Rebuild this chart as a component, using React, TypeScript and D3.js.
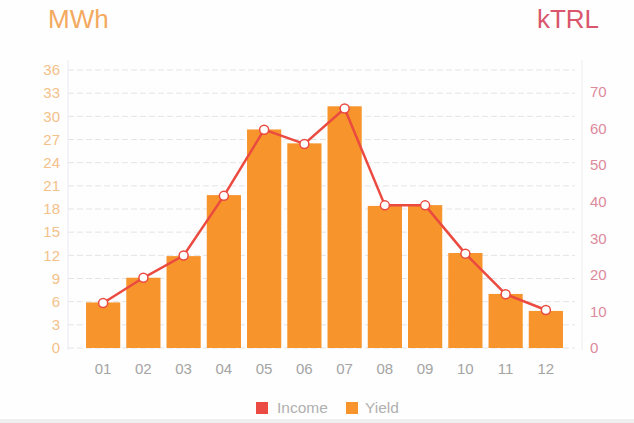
import * as d3 from 'd3';

const months = ['01', '02', '03', '04', '05', '06', '07', '08', '09', '10', '11', '12'];
const yieldMWh = [5.9, 9.1, 11.9, 19.8, 28.3, 26.5, 31.3, 18.4, 18.5, 12.3, 7.0, 4.8];
const incomeKTRL = [12.3, 19.2, 25.3, 41.6, 59.7, 55.8, 65.5, 39.0, 39.0, 25.8, 14.7, 10.4];
const leftTicks = [0, 3, 6, 9, 12, 15, 18, 21, 24, 27, 30, 33, 36];
const rightTicks = [0, 10, 20, 30, 40, 50, 60, 70];
const legendItems = [
  { label: 'Income', color: '#ec4b43' },
  { label: 'Yield', color: '#f7952c' },
];

const W = 634;
const H = 423;
const FONT = '"Liberation Sans", Arial, sans-serif';
const BAR = '#f7952c';
const LINE = '#ea4a3f';

export default function App() {
  const plot = { left: 68, right: 582, top: 60, bottom: 348 };

  const x = d3.scaleBand<string>()
    .domain(months)
    .range([83, 566])
    .paddingInner(0.15)
    .paddingOuter(0.075);

  const yLeft = d3.scaleLinear().domain([0, 36]).range([plot.bottom, 70]);
  const yRight = d3.scaleLinear().domain([0, 70]).range([plot.bottom, 92]);

  const pts = months.map((m, i) => ({ m, v: incomeKTRL[i] }));
  const line = d3.line<{ m: string; v: number }>()
    .x(d => (x(d.m) ?? 0) + x.bandwidth() / 2)
    .y(d => yRight(d.v));

  return (
    <svg width={W} height={H} style={{ position: 'absolute', left: 0, top: 0, background: '#fefefe' }}>
      <rect x={0} y={419} width={W} height={4} fill="#efefef" />

      <text x={48} y={28} fontFamily={FONT} fontSize={26} fill="#f4aa5e">MWh</text>
      <text x={599} y={28} fontFamily={FONT} fontSize={26} fill="#d9566c" textAnchor="end">kTRL</text>

      {/* grid */}
      {leftTicks.map(t => (
        <line
          key={t}
          x1={plot.left}
          x2={575}
          y1={yLeft(t)}
          y2={yLeft(t)}
          stroke="#e4e4e4"
          strokeDasharray="6 3"
        />
      ))}
      <line x1={plot.left} x2={plot.left} y1={plot.top} y2={plot.bottom + 2} stroke="#e8eaf0" />
      <line x1={plot.right} x2={plot.right} y1={plot.top} y2={plot.bottom + 2} stroke="#ececec" />

      {/* left ticks */}
      {leftTicks.map(t => (
        <text
          key={t}
          x={60}
          y={yLeft(t)}
          dy="0.35em"
          textAnchor="end"
          fontFamily={FONT}
          fontSize={15}
          fill="#f3c189"
        >
          {t}
        </text>
      ))}

      {/* right ticks */}
      {rightTicks.map(t => (
        <text
          key={t}
          x={590}
          y={yRight(t)}
          dy="0.35em"
          fontFamily={FONT}
          fontSize={15}
          fill="#dd8a9c"
        >
          {t}
        </text>
      ))}

      {/* bars */}
      {months.map((m, i) => (
        <rect
          key={m}
          x={x(m)}
          y={yLeft(yieldMWh[i])}
          width={x.bandwidth()}
          height={plot.bottom - yLeft(yieldMWh[i])}
          fill={BAR}
        />
      ))}

      {/* x labels */}
      {months.map(m => (
        <text
          key={m}
          x={(x(m) ?? 0) + x.bandwidth() / 2}
          y={369}
          dy="0.35em"
          textAnchor="middle"
          fontFamily={FONT}
          fontSize={15}
          fill="#a4a4a4"
        >
          {m}
        </text>
      ))}

      {/* income line */}
      <path d={line(pts) ?? ''} fill="none" stroke={LINE} strokeWidth={2.5} strokeLinejoin="round" />
      {pts.map(p => (
        <circle
          key={p.m}
          cx={(x(p.m) ?? 0) + x.bandwidth() / 2}
          cy={yRight(p.v)}
          r={4.5}
          fill="#fff"
          stroke={LINE}
          strokeWidth={1.5}
        />
      ))}

      {/* legend */}
      <g transform="translate(256,408)">
        <rect x={0} y={-6} width={12} height={12} fill={legendItems[0].color} />
        <text x={21} y={0} dy="0.35em" fontFamily={FONT} fontSize={15.5} fill="#b0b0b0">{legendItems[0].label}</text>
        <rect x={90} y={-6} width={12} height={12} fill={legendItems[1].color} />
        <text x={109} y={0} dy="0.35em" fontFamily={FONT} fontSize={15.5} fill="#b0b0b0">{legendItems[1].label}</text>
      </g>
    </svg>
  );
}
